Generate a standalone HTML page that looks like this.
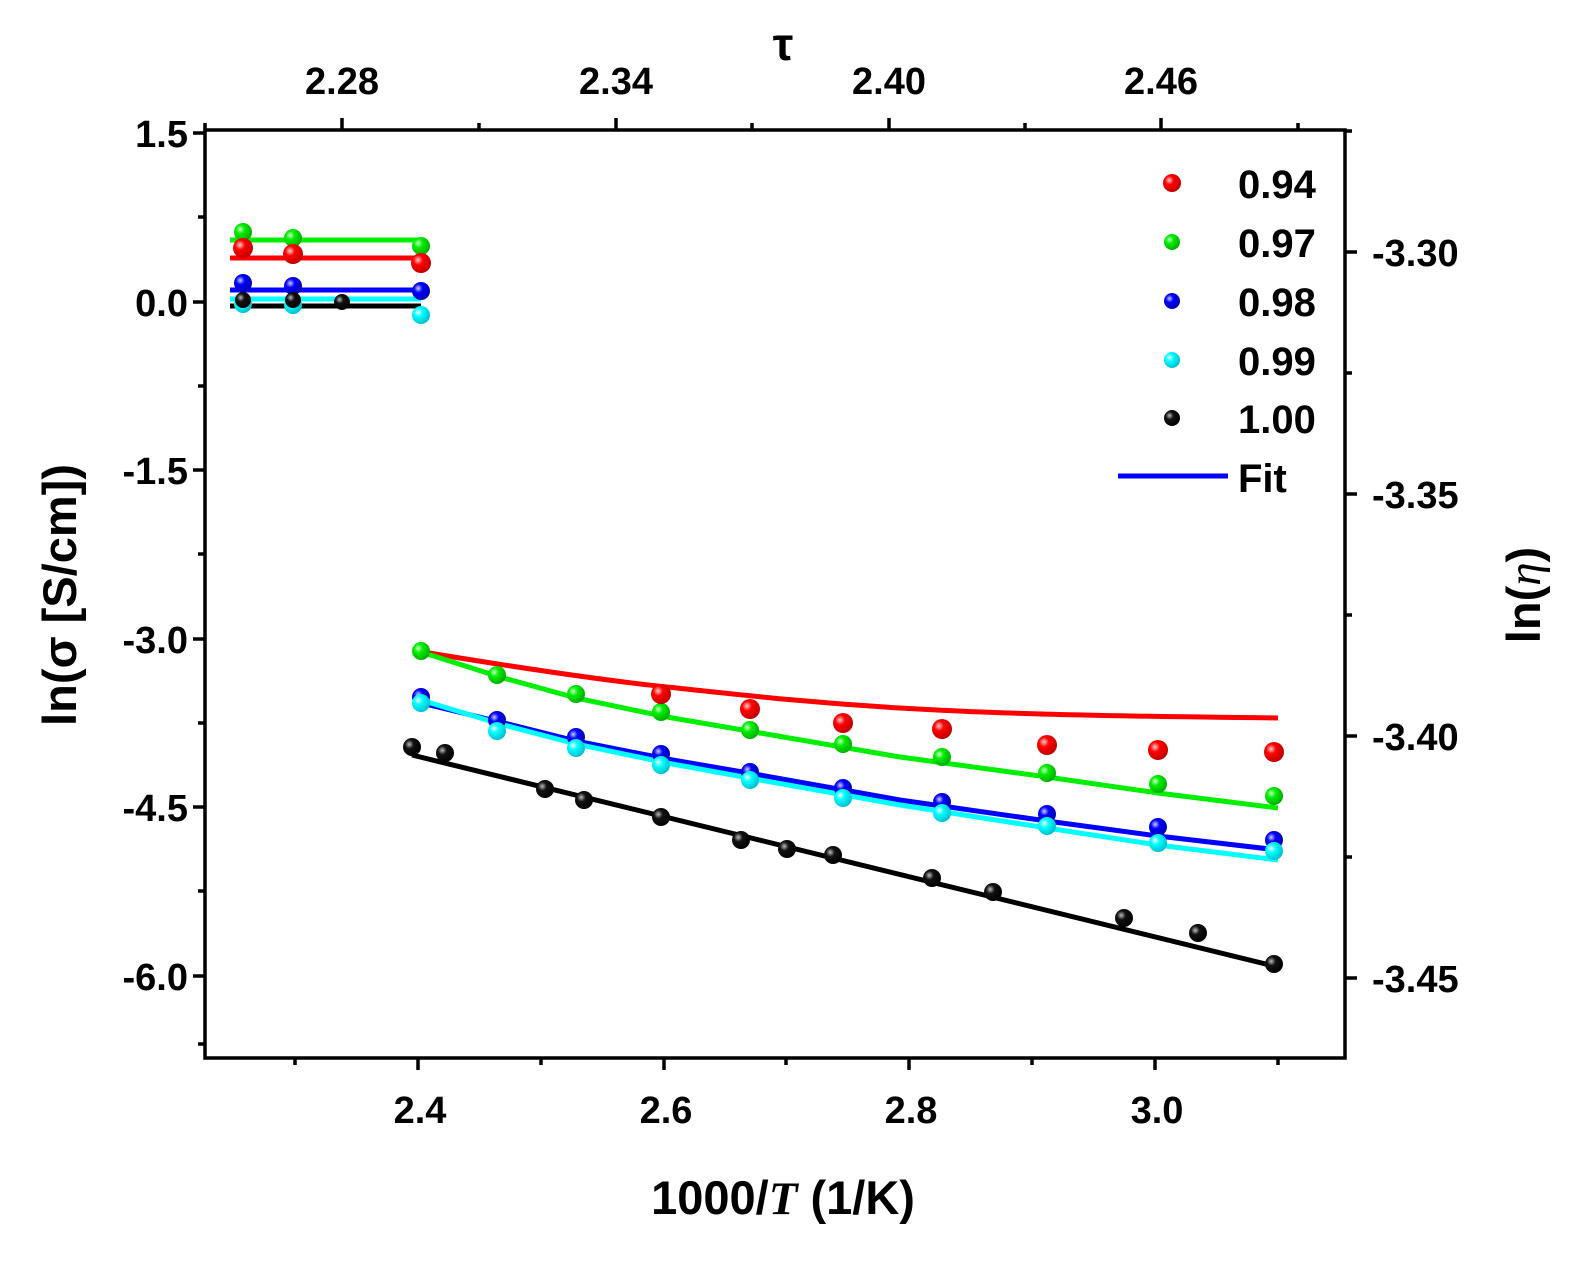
<!DOCTYPE html>
<html><head><style>
html,body{margin:0;padding:0;background:#fff;}
svg text{font-family:"Liberation Sans",Arial,sans-serif;font-weight:bold;}
</style></head><body>
<svg width="1577" height="1260" viewBox="0 0 1577 1260" xmlns="http://www.w3.org/2000/svg">
<defs>
<radialGradient id="gr" cx="0.35" cy="0.35" r="0.7"><stop offset="0" stop-color="#fcc"/><stop offset="0.35" stop-color="#f00"/><stop offset="1" stop-color="#b00"/></radialGradient>
<radialGradient id="gg" cx="0.35" cy="0.35" r="0.7"><stop offset="0" stop-color="#cfc"/><stop offset="0.35" stop-color="#0e0"/><stop offset="1" stop-color="#0a0"/></radialGradient>
<radialGradient id="gb" cx="0.35" cy="0.35" r="0.7"><stop offset="0" stop-color="#ccf"/><stop offset="0.35" stop-color="#00f"/><stop offset="1" stop-color="#00a"/></radialGradient>
<radialGradient id="gc" cx="0.35" cy="0.35" r="0.7"><stop offset="0" stop-color="#eff"/><stop offset="0.35" stop-color="#0ff"/><stop offset="1" stop-color="#0bc"/></radialGradient>
<radialGradient id="gk" cx="0.35" cy="0.35" r="0.7"><stop offset="0" stop-color="#bbb"/><stop offset="0.35" stop-color="#111"/><stop offset="1" stop-color="#000"/></radialGradient>
</defs>
<g fill="none" stroke-width="5">
<path d="M230 240H421" stroke="#0e0"/>
<path d="M230 258H421" stroke="#f00"/>
<path d="M230 290H421" stroke="#00f"/>
<path d="M230 299H421" stroke="#0ff"/>
<path d="M230 306H421" stroke="#000"/>
<path d="M423 652 C520 668 600 680 667 687 S800 702 900 708 S1100 716 1278 718" stroke="#f00"/>
<polyline points="421,652 500,677 576,698 667,717 760,733 900,757 1047,777 1158,793 1278,808" stroke="#0e0"/>
<polyline points="421,703 500,722 576,741 667,759 760,775 900,800 1047,821 1158,836 1278,850" stroke="#00f"/>
<polyline points="421,700 500,724 576,744 667,763 760,780 900,805 1047,828 1158,845 1278,860" stroke="#0ff"/>
<path d="M412 755L1278 967" stroke="#000"/>
</g>
<g>
<g fill="url(#gg)"><circle cx="243" cy="232" r="9"/><circle cx="293" cy="238" r="9"/><circle cx="421" cy="246" r="9"/>
<circle cx="421" cy="651" r="9"/><circle cx="497" cy="675" r="9"/><circle cx="576" cy="694" r="9"/><circle cx="661" cy="712" r="9"/><circle cx="750" cy="730" r="9"/><circle cx="843" cy="744" r="9"/><circle cx="942" cy="757" r="9"/><circle cx="1047" cy="773" r="9"/><circle cx="1158" cy="784" r="9"/><circle cx="1274" cy="796" r="9"/></g>
<g fill="url(#gr)"><circle cx="243" cy="248" r="10"/><circle cx="293" cy="254" r="10"/><circle cx="421" cy="263" r="10"/>
<circle cx="661" cy="694" r="10"/><circle cx="750" cy="709" r="10"/><circle cx="843" cy="723" r="10"/><circle cx="942" cy="729" r="10"/><circle cx="1047" cy="745" r="10"/><circle cx="1158" cy="750" r="10"/><circle cx="1274" cy="752" r="10"/></g>
<g fill="url(#gb)"><circle cx="243" cy="283" r="9"/><circle cx="293" cy="286" r="9"/><circle cx="421" cy="291" r="9"/>
<circle cx="421" cy="697" r="9"/><circle cx="497" cy="720" r="9"/><circle cx="576" cy="737" r="9"/><circle cx="661" cy="754" r="9"/><circle cx="750" cy="772" r="9"/><circle cx="843" cy="788" r="9"/><circle cx="942" cy="802" r="9"/><circle cx="1047" cy="814" r="9"/><circle cx="1158" cy="827" r="9"/><circle cx="1274" cy="840" r="9"/></g>
<g fill="url(#gc)"><circle cx="243" cy="304" r="9"/><circle cx="293" cy="305" r="9"/><circle cx="421" cy="315" r="9"/>
<circle cx="421" cy="703" r="9"/><circle cx="497" cy="731" r="9"/><circle cx="576" cy="748" r="9"/><circle cx="661" cy="765" r="9"/><circle cx="750" cy="780" r="9"/><circle cx="843" cy="798" r="9"/><circle cx="942" cy="813" r="9"/><circle cx="1047" cy="826" r="9"/><circle cx="1158" cy="843" r="9"/><circle cx="1274" cy="851" r="9"/></g>
<g fill="url(#gk)"><circle cx="243" cy="300" r="8"/><circle cx="293" cy="300" r="8"/><circle cx="342" cy="302" r="8"/>
<circle cx="412" cy="747" r="9"/><circle cx="445" cy="753" r="9"/><circle cx="545" cy="789" r="9"/><circle cx="584" cy="800" r="9"/><circle cx="661" cy="817" r="9"/><circle cx="741" cy="840" r="9"/><circle cx="787" cy="849" r="9"/><circle cx="833" cy="855" r="9"/><circle cx="932" cy="878" r="9"/><circle cx="993" cy="892" r="9"/><circle cx="1124" cy="918" r="9"/><circle cx="1198" cy="933" r="9"/><circle cx="1274" cy="964" r="9"/></g>
</g>
<rect x="205" y="130" width="1140" height="928" fill="none" stroke="#000" stroke-width="3.5"/>
<g stroke="#000" stroke-width="3.5">
<path d="M193 133H205M193 302H205M193 470H205M193 639H205M193 807H205M193 976H205"/>
<path d="M198 217H205M198 386H205M198 554H205M198 723H205M198 891H205M198 1044H205"/>
<path d="M418 1058V1070M664 1058V1070M909 1058V1070M1155 1058V1070"/>
<path d="M295 1058V1065M541 1058V1065M786 1058V1065M1032 1058V1065M1278 1058V1065"/>
<path d="M342 130V118M616 130V118M889 130V118M1161 130V118"/>
<path d="M205 130V123M479 130V123M752 130V123M1025 130V123M1298 130V123"/>
<path d="M1345 252H1357M1345 494H1357M1345 736H1357M1345 978H1357"/>
<path d="M1345 131H1352M1345 373H1352M1345 615H1352M1345 857H1352"/>
</g>
<g font-size="38" fill="#000">
<g text-anchor="end"><text x="188" y="147">1.5</text><text x="188" y="316">0.0</text><text x="188" y="484">-1.5</text><text x="188" y="653">-3.0</text><text x="188" y="821">-4.5</text><text x="188" y="990">-6.0</text></g>
<g text-anchor="middle"><text x="420" y="1123">2.4</text><text x="666" y="1123">2.6</text><text x="911" y="1123">2.8</text><text x="1157" y="1123">3.0</text>
<text x="342" y="94">2.28</text><text x="616" y="94">2.34</text><text x="889" y="94">2.40</text><text x="1161" y="94">2.46</text></g>
<g><text x="1372" y="266">-3.30</text><text x="1372" y="508">-3.35</text><text x="1372" y="750">-3.40</text><text x="1372" y="992">-3.45</text></g>
</g>
<text x="783" y="60" font-size="46" text-anchor="middle">τ</text>
<text x="783" y="1214" font-size="47" text-anchor="middle">1000/<tspan font-family="Liberation Serif" font-style="italic">T</tspan>  (1/K)</text>
<text transform="translate(76,595) rotate(-90)" font-size="47" text-anchor="middle">ln(σ [S/cm])</text>
<text transform="translate(1540,595) rotate(-90)" font-size="47" text-anchor="middle">ln(<tspan font-family="Liberation Serif" font-style="italic" font-weight="normal">η</tspan>)</text>
<g font-size="40">
<circle cx="1172" cy="183" r="9" fill="url(#gr)"/><text x="1238" y="198">0.94</text>
<circle cx="1172" cy="242" r="8" fill="url(#gg)"/><text x="1238" y="257">0.97</text>
<circle cx="1172" cy="301" r="8" fill="url(#gb)"/><text x="1238" y="316">0.98</text>
<circle cx="1172" cy="360" r="8" fill="url(#gc)"/><text x="1238" y="375">0.99</text>
<circle cx="1172" cy="418" r="8" fill="url(#gk)"/><text x="1238" y="433">1.00</text>
<path d="M1118 476H1228" stroke="#00f" stroke-width="5"/><text x="1238" y="492">Fit</text>
</g>
</svg>
</body></html>
